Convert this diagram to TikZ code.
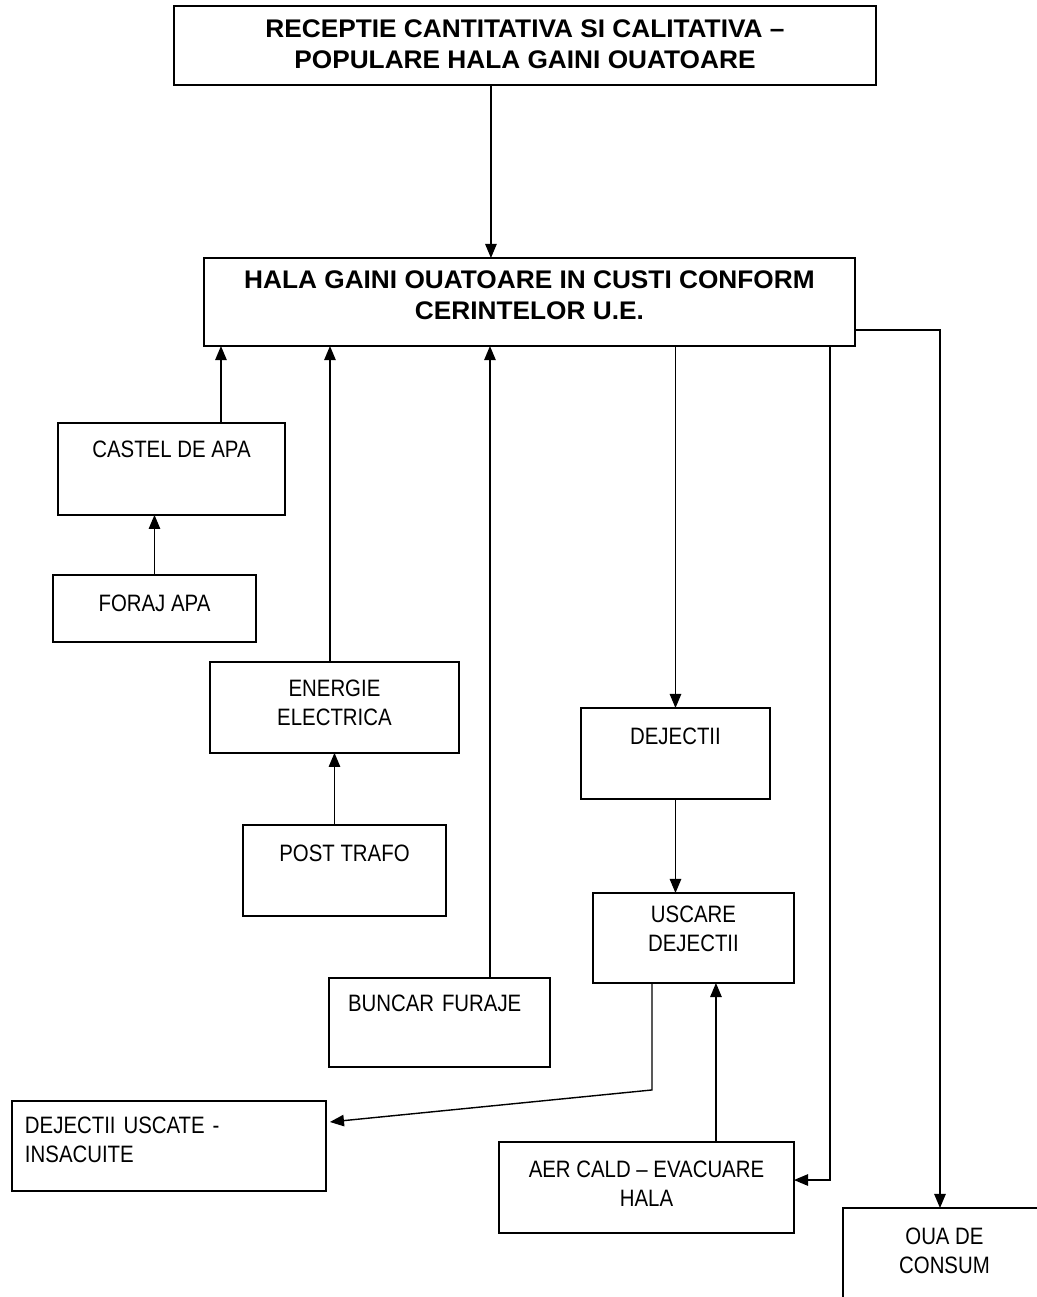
\documentclass[tikz,border=0pt]{standalone}
\usepackage{fontspec}
\setmainfont[FakeStretch=0.86]{Liberation Sans}
\newfontfamily\headfont[FakeStretch=1.03]{Liberation Sans}
\usepackage{tikz}
\usetikzlibrary{arrows.meta}
\tikzstyle{block} = [rectangle, draw=black, line width=0.8pt, anchor=north west, inner xsep=0pt, inner ysep=0pt, outer sep=0pt, align=center, font=\fontsize{13.5}{16.5}\selectfont]
\tikzstyle{mainblock} = [block, font=\headfont\bfseries\fontsize{14.5}{17.4}\selectfont]
\tikzstyle{leftblock} = [block, align=left]
\tikzstyle{arrow} = [line width=0.8pt, -{Triangle[length=8pt,width=6.5pt]}]

\begin{document}
\begin{tikzpicture}[x=0.02cm, y=-0.02cm]
  \useasboundingbox (0,0) rectangle (1036,1297);

  \node (recv) [mainblock, minimum width=14.04cm, text height=35.6pt, text depth=9.4pt] at (174,6) {RECEPTIE CANTITATIVA SI CALITATIVA –\\ POPULARE HALA GAINI OUATOARE};
  \node (hala) [mainblock, minimum width=13.02cm, text height=35pt, text depth=15.1pt] at (204,258) {HALA GAINI OUATOARE IN CUSTI CONFORM\\ CERINTELOR U.E.};

  \node (castel) [block, minimum width=4.54cm, text height=19.6pt, text depth=32.7pt] at (58,423) {CASTEL DE APA};
  \node (foraj) [block, minimum width=4.06cm, text height=20.8pt, text depth=17.35pt] at (53,575) {FORAJ APA};
  \node (energie) [block, minimum width=4.98cm, text height=36.1pt, text depth=15.6pt] at (210,662) {ENERGIE\\ ELECTRICA};
  \node (posttrafo) [block, minimum width=4.06cm, text height=20.8pt, text depth=31pt] at (243,825) {POST TRAFO};
  \node (buncar) [leftblock, text width=3.66cm, inner xsep=0.38cm, text height=19.1pt, text depth=31.6pt] at (329,978) {BUNCAR FURAJE};

  \node (dejectii) [block, minimum width=3.78cm, text height=20.8pt, text depth=31pt] at (581,708) {DEJECTII};
  \node (uscare) [block, minimum width=4.02cm, text height=33.3pt, text depth=17.9pt] at (593,893) {USCARE\\ DEJECTII};
  \node (dejuscate) [leftblock, text width=5.76cm, inner xsep=0.26cm, text height=18.5pt, text depth=32.7pt] at (12,1101) {DEJECTII USCATE -\\ INSACUITE};
  \node (aercald) [block, minimum width=5.9cm, text height=36.7pt, text depth=15.1pt] at (499,1142) {AER CALD – EVACUARE\\ HALA};
  \node (oua) [block, minimum width=4.06cm, text height=37.3pt, text depth=20.8pt] at (843,1208) {OUA DE\\ CONSUM};

  \draw [arrow] ([xshift=-0.68cm]recv.south) -- ([xshift=-0.68cm]recv.south |- hala.north);
  \draw [arrow] ([xshift=0.99cm]castel.north) -- ([xshift=0.99cm]castel.north |- hala.south);
  \draw [arrow] (foraj.north) -- (foraj.north |- castel.south);
  \draw [arrow] ([xshift=-0.09cm]energie.north) -- ([xshift=-0.09cm]energie.north |- hala.south);
  \draw [arrow] ([xshift=-0.2cm]posttrafo.north) -- ([xshift=-0.2cm]posttrafo.north |- energie.south);
  \draw [arrow] ([xshift=1.01cm]buncar.north) -- ([xshift=1.01cm]buncar.north |- hala.south);
  \draw [arrow] (dejectii.north |- hala.south) -- (dejectii.north);
  \draw [arrow] (dejectii.south) -- (dejectii.south |- uscare.north);
  \draw [arrow] ([xshift=1.39cm]aercald.north) -- ([xshift=1.39cm]aercald.north |- uscare.south);
  \draw [arrow] ([xshift=-0.83cm]uscare.south) -- ++(0,107) -- ([xshift=0.08cm, yshift=0.48cm]dejuscate.east);
  \draw [arrow] ([xshift=6.01cm]hala.south) |- ([yshift=0.15cm]aercald.east);
  \draw [arrow] ([yshift=-0.56cm]hala.east) -| ([xshift=-0.09cm]oua.north);

\end{tikzpicture}
\end{document}
